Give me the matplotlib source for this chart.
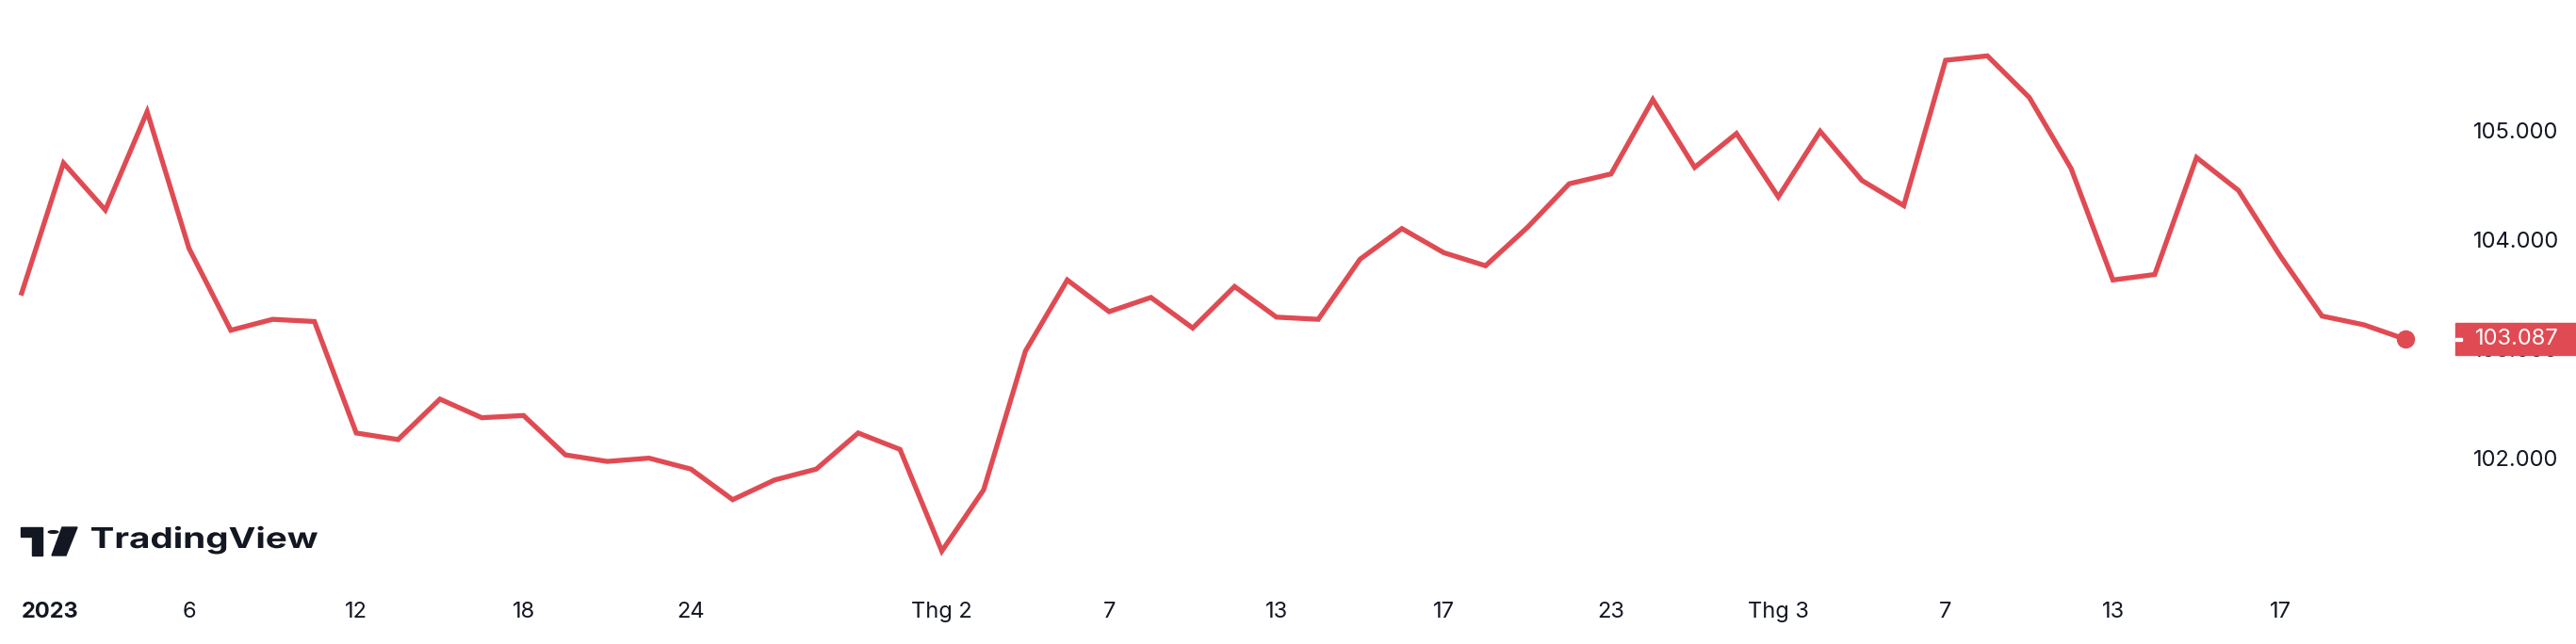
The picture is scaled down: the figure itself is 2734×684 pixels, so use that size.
import numpy as np
import pandas as pd
import matplotlib
matplotlib.use('Agg')
import matplotlib.pyplot as plt
from matplotlib.patches import Rectangle, Circle, Polygon, PathPatch
from matplotlib.textpath import TextPath
from matplotlib.font_manager import FontProperties
from matplotlib.transforms import blended_transform_factory, Affine2D

# DXY daily close, 2 Jan -> 22 Mar 2023
dates = pd.bdate_range('2023-01-02', '2023-03-22')
closes = [103.51, 104.70, 104.27, 105.17, 103.92, 103.17, 103.27, 103.25, 102.23, 102.17,
          102.54, 102.37, 102.39, 102.03, 101.97, 102.00, 101.90, 101.62, 101.80, 101.90,
          102.23, 102.08, 101.15, 101.71, 102.98, 103.63, 103.34, 103.47, 103.19, 103.57,
          103.29, 103.27, 103.82, 104.10, 103.88, 103.76, 104.11, 104.51, 104.60, 105.28,
          104.66, 104.97, 104.39, 104.99, 104.54, 104.31, 105.64, 105.68, 105.30, 104.65,
          103.63, 103.68, 104.75, 104.45, 103.85, 103.30, 103.22, 103.087]

tick_dates = ['2023-01-02', '2023-01-06', '2023-01-12', '2023-01-18', '2023-01-24',
              '2023-02-01', '2023-02-07', '2023-02-13', '2023-02-17', '2023-02-23',
              '2023-03-01', '2023-03-07', '2023-03-13', '2023-03-17']
tick_labels = ['2023', '6', '12', '18', '24', 'Thg 2', '7', '13', '17', '23',
               'Thg 3', '7', '13', '17']
price_ticks = [102, 103, 104, 105]

RED = '#E04B53'
INK = '#131722'
W, H = 2734, 684

plt.rcParams['font.family'] = ['Inter', 'DejaVu Sans']

fig = plt.figure(figsize=(W / 100, H / 100), dpi=100)
fig.patch.set_facecolor('white')

# main axes: full width up to the price scale, down to the date row
ax_bottom = 625
ax = fig.add_axes([0, 1 - ax_bottom / H, 2600 / W, ax_bottom / H])
x = np.arange(len(closes))
ax.plot(x, closes, color=RED, lw=3.8, solid_joinstyle='miter', zorder=3)
ax.plot(x[-1], closes[-1], 'o', color=RED, ms=13, zorder=4)

px_per_day = 44.39
x0 = 23
ax.set_xlim(-x0 / px_per_day, (2600 - x0) / px_per_day)
ppu = 116.1
ax.set_ylim(105 - (ax_bottom - 138.3) / ppu, 105 + 138.3 / ppu)

for s in ax.spines.values():
    s.set_visible(False)

pos = [dates.get_loc(pd.Timestamp(d)) for d in tick_dates]
ax.set_xticks(pos)
ax.set_xticklabels(tick_labels, fontsize=17, color=INK)
ax.tick_params(axis='x', length=0, pad=10)
first = ax.get_xticklabels()[0]
first.set_fontweight('bold')
first.set_ha('left')

ax.yaxis.tick_right()
ax.set_yticks(price_ticks)
ax.set_yticklabels([f'{v:.3f}' for v in price_ticks], fontsize=17, color=INK)
ax.tick_params(axis='y', length=0, pad=18)

# last price label on the scale
tr = blended_transform_factory(fig.transFigure, ax.transData)
box_h = 34 / ppu
fig.add_artist(Rectangle((2606 / W, closes[-1] - box_h / 2), 1 - 2606 / W, box_h,
                         transform=tr, color=RED, zorder=5))
fig.add_artist(Rectangle((2606 / W, closes[-1] - 1.5 / ppu), 7 / W, 3 / ppu,
                         transform=tr, color='white', zorder=6))
fig.text(2627 / W, closes[-1], f'{closes[-1]:.3f}', transform=tr, color='white',
         fontsize=17, va='center', ha='left', zorder=7)

# TradingView logo (pixel coords, y from top)
def P(px, py):
    return (px / W, 1 - py / H)

fig.add_artist(Polygon([P(22, 560), P(45, 560), P(45, 590), P(34, 590), P(34, 570), P(22, 570)],
                       closed=True, transform=fig.transFigure, color=INK))
fig.add_artist(Circle(P(56.5, 565), 5.2 / W, transform=fig.transFigure, color=INK))
fig.add_artist(Polygon([P(66, 560), P(82, 560), P(70, 590), P(55, 590)],
                       closed=True, transform=fig.transFigure, color=INK))

# wordmark, stretched to the width of the original
tp = TextPath((0, 0), 'TradingView', size=1, prop=FontProperties(family='Inter', weight='bold'))
ext = tp.get_extents()
sy = 22 / 0.727
sx = 240 / ext.width
word_tr = Affine2D().translate(-ext.x0, 0).scale(sx / W, sy / H).translate(97 / W, 1 - 582 / H)
fig.add_artist(PathPatch(tp, transform=word_tr + fig.transFigure, color=INK, lw=0))

fig.savefig('out.png', dpi=100, facecolor='white')
